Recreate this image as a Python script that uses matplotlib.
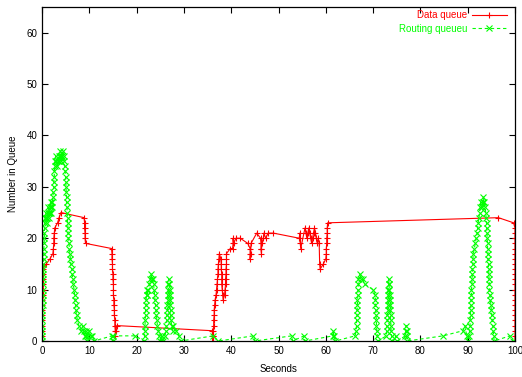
import matplotlib
matplotlib.use('Agg')
import matplotlib.pyplot as plt

plt.rcParams['font.family'] = ['Liberation Sans', 'DejaVu Sans']

# data queue samples (seconds, length)
red_t = [0.0, 0.0, 0.05, 0.05, 0.05, 0.1, 0.1, 0.1, 0.1, 0.15, 0.15, 0.15, 0.2, 0.2, 0.2,
         0.9, 1.7, 2.3, 2.4, 2.5, 2.5, 2.6, 2.7, 3.3, 3.6, 4.0,
         8.9, 9.0, 9.0, 9.1, 9.1, 9.2,
         14.7, 14.8, 14.8, 14.9, 14.9, 15.0, 15.0, 15.1, 15.1, 15.1, 15.2, 15.2, 15.3, 15.3, 15.4, 15.4, 15.5, 15.5,
         15.6, 15.8,
         36.0, 36.1, 36.1,
         36.2, 36.2, 36.3, 36.3, 36.4, 36.4, 36.5, 36.6, 36.8, 36.9, 37.0, 37.1, 37.2, 37.2, 37.3, 37.4, 37.5,
         37.8, 37.9, 37.9, 38.0, 38.0, 38.0, 38.1, 38.2, 38.3,
         38.6, 38.7, 38.8, 38.8, 38.9, 38.9, 39.0, 39.0, 39.0,
         39.8, 40.3, 40.4, 40.4, 40.5, 41.0, 41.9, 43.5, 44.0, 44.0, 44.0, 44.1, 44.2, 45.4,
         46.2, 46.3, 46.3, 46.4, 46.4, 46.5, 46.8, 46.9, 47.3, 47.8, 48.9,
         54.4, 54.5, 54.5, 54.6, 54.7,
         55.6, 55.8, 56.0, 56.2, 56.4, 56.6, 56.8, 57.0, 57.2, 57.4, 57.6, 57.8, 58.0, 58.2, 58.4, 58.6,
         58.7, 58.8, 59.5, 60.0, 60.1, 60.1, 60.2, 60.2, 60.3, 60.3, 60.4,
         96.5, 99.7,
         100, 100, 100, 100, 100, 100, 100, 100, 100, 100, 100, 100,
         100, 100, 100, 100, 100, 100, 100, 100, 100, 100, 100]
red_q = [0, 1, 2, 3, 4, 5, 6, 7, 8, 9, 10, 11, 12, 13, 14,
         15, 16, 17, 18, 19, 20, 21, 22, 23, 24, 25,
         24, 23, 22, 21, 20, 19,
         18, 17, 16, 15, 14, 13, 12, 11, 10, 9, 8, 7, 6, 5, 4, 3, 2, 1,
         2, 3,
         2, 1, 0,
         1, 2, 3, 4, 5, 6, 7, 8, 9, 10, 11, 12, 13, 14, 15, 16, 17,
         16, 15, 14, 13, 12, 11, 10, 9, 8,
         9, 10, 11, 12, 13, 14, 15, 16, 17,
         18, 18, 19, 20, 19, 20, 20, 19, 18, 17, 16, 17, 19, 21,
         20, 19, 18, 17, 18, 19, 20, 21, 20, 21, 21,
         20, 21, 20, 19, 18,
         22, 21, 20, 21, 22, 21, 20, 19, 20, 21, 22, 21, 20, 19, 20, 19,
         15, 14, 15, 16, 17, 18, 19, 20, 21, 22, 23,
         24, 23,
         22, 21, 20, 19, 18, 17, 16, 15, 14, 13, 12, 11,
         10, 9, 8, 7, 6, 5, 4, 3, 2, 1, 0]

# routing queue samples
green_t = [0, 0, 0.05, 0.05, 0.1, 0.1, 0.1, 0.15, 0.15, 0.2, 0.2, 0.2, 0.25, 0.25, 0.3, 0.3,
           0.35, 0.4, 0.4, 0.45, 0.5, 0.5, 0.55, 0.6,
           0.7, 0.8, 0.9, 1.0, 1.1, 1.2, 1.3, 1.4, 1.5, 1.6, 1.7, 1.8, 1.9, 2.0, 2.1, 2.2, 2.3,
           2.4, 2.5, 2.5, 2.6, 2.6, 2.7, 2.7,
           2.9, 3.0, 3.2, 3.3, 3.5, 3.6, 3.8, 3.9, 4.0, 4.1, 4.3, 4.4, 4.6, 4.7, 4.8,
           4.9, 5.0, 5.0, 5.1, 5.1, 5.2, 5.2, 5.3, 5.3, 5.4, 5.4, 5.5, 5.5, 5.6, 5.7,
           5.8, 5.9, 6.0, 6.1, 6.3, 6.4, 6.5, 6.6, 6.8, 6.9, 7.0, 7.1, 7.2, 7.3, 7.5,
           7.8, 8.3, 8.6, 8.8, 9.0, 9.2, 9.4, 9.6, 9.8, 10.0, 10.3, 10.6, 11.0,
           14.8, 15.0, 15.1, 19.7,
           21.6, 21.7, 21.7, 21.8, 21.8, 21.9, 21.9, 22.0, 22.0, 22.1, 22.2,
           22.3, 22.5, 22.7, 22.9, 23.1, 23.2,
           23.4, 23.6, 23.7, 23.8, 23.9, 24.0, 24.1, 24.2, 24.3, 24.4, 24.6, 24.8, 25.0,
           25.3, 25.6, 26.0, 26.2, 26.3, 26.4, 26.4, 26.5, 26.5, 26.6, 26.6, 26.7, 26.7, 26.8,
           26.9, 27.0, 27.0, 27.1, 27.1, 27.2, 27.2, 27.3, 27.4, 27.6, 27.8, 28.4, 29.0, 29.3,
           36.2, 37.3, 44.7, 45.0, 52.8, 53.0, 55.4, 55.6, 61.5, 61.6, 61.7, 62.0,
           66.2, 66.4, 66.5, 66.5, 66.6, 66.6, 66.7, 66.7, 66.8, 66.8, 66.9, 66.9,
           67.2, 67.5, 67.8, 68.3, 70.0,
           70.4, 70.5, 70.5, 70.6, 70.6, 70.7, 70.7, 70.8, 70.9, 71.0,
           72.8, 72.9, 72.9, 73.0, 73.0, 73.1, 73.1, 73.2, 73.2, 73.2, 73.3, 73.3,
           73.4, 73.4, 73.5, 73.5, 73.6, 73.6, 73.7, 73.7, 73.8, 73.8, 73.9, 74.0,
           74.8, 75.1, 76.8, 76.9, 77.0, 77.1, 77.1, 77.2,
           84.8, 89.0, 89.4, 89.8, 90.0,
           90.3, 90.4, 90.5, 90.5, 90.6, 90.6, 90.7, 90.7, 90.8, 90.8, 90.9, 90.9, 91.0, 91.0, 91.1, 91.1, 91.2,
           91.4, 91.6, 91.8, 92.0, 92.1, 92.2, 92.4, 92.5, 92.6, 92.8, 93.0, 93.2, 93.3,
           93.5, 93.7, 93.8, 93.9, 94.0, 94.0, 94.1, 94.1, 94.2, 94.2, 94.3, 94.3, 94.4, 94.4,
           94.5, 94.5, 94.6, 94.6, 94.7, 94.8, 94.9, 95.0, 95.1, 95.2, 95.3, 95.4, 95.5, 95.6,
           98.9, 99.6]
green_q = [0, 1, 2, 3, 4, 5, 6, 7, 8, 9, 10, 11, 12, 13, 14, 15,
           16, 17, 18, 19, 20, 21, 22, 23,
           24, 25, 24, 23, 24, 25, 26, 25, 24, 25, 26, 27, 26, 25, 26, 27, 28,
           29, 30, 31, 32, 33, 34, 35,
           36, 35, 34, 35, 36, 35, 36, 37, 36, 35, 36, 37, 36, 35, 34,
           33, 32, 31, 30, 29, 28, 27, 26, 25, 24, 23, 22, 21, 20, 19,
           18, 17, 16, 15, 14, 13, 12, 11, 10, 9, 8, 7, 6, 5, 4,
           3, 2, 3, 2, 1, 2, 1, 0, 1, 2, 1, 1, 0,
           1, 0, 1, 1,
           0, 1, 2, 3, 4, 5, 6, 7, 8, 9, 10,
           9, 10, 11, 12, 13, 12,
           12, 11, 10, 9, 8, 7, 6, 5, 4, 3, 2, 1, 0,
           1, 0, 1, 2, 3, 4, 5, 6, 7, 8, 9, 10, 11, 12,
           11, 10, 9, 8, 7, 6, 5, 4, 3, 2, 3, 2, 1, 0,
           1, 0, 1, 0, 1, 0, 1, 0, 1, 2, 1, 0,
           1, 2, 3, 4, 5, 6, 7, 8, 9, 10, 11, 12,
           13, 12, 12, 11, 10,
           9, 8, 7, 6, 5, 4, 3, 2, 1, 0,
           1, 2, 3, 4, 5, 6, 7, 8, 9, 10, 11, 12,
           11, 10, 9, 8, 7, 6, 5, 4, 3, 2, 1, 0,
           1, 0, 1, 2, 3, 2, 1, 0,
           1, 2, 3, 1, 0,
           1, 2, 3, 4, 5, 6, 7, 8, 9, 10, 11, 12, 13, 14, 15, 16, 17,
           18, 19, 20, 21, 22, 23, 24, 25, 26, 27, 26, 27, 28,
           27, 26, 25, 24, 23, 22, 21, 20, 19, 18, 17, 16, 15, 14,
           13, 12, 11, 10, 9, 8, 7, 6, 5, 4, 3, 2, 1, 0,
           1, 0]

assert len(red_t) == len(red_q)
assert len(green_t) == len(green_q)

fig = plt.figure(figsize=(5.22, 3.77), dpi=100)
ax = fig.add_axes([42 / 522, 1 - 341 / 377, 473 / 522, 334 / 377])

ax.plot(red_t, red_q, color='#ff0000', lw=0.8, marker='+', ms=5, mew=0.8,
        label='Data queue')
ax.plot(green_t, green_q, color='#00ff00', lw=0.8, ls=(0, (3, 2.5)), marker='x',
        ms=4, mew=0.8, label='Routing queueu')

ax.set_xlim(0, 100)
ax.set_ylim(0, 65)
ax.set_xticks(range(0, 101, 10))
ax.set_yticks(range(0, 61, 10))
ax.tick_params(direction='in', top=True, right=True, length=4, width=0.8,
               labelsize=7, pad=3.5)
for s in ax.spines.values():
    s.set_linewidth(0.9)

ax.set_xlabel('Seconds', fontsize=7, labelpad=6)
ax.set_ylabel('Number in Queue', fontsize=7, labelpad=6)

lgd = ax.legend(loc='upper right', bbox_to_anchor=(0.992, 1.003), frameon=False,
                markerfirst=False, labelcolor='linecolor', numpoints=1,
                handlelength=3.6, fontsize=7, borderaxespad=0.05,
                labelspacing=0.35, handletextpad=0.5)

fig.savefig('out.png', dpi=100)
plt.close('all')
